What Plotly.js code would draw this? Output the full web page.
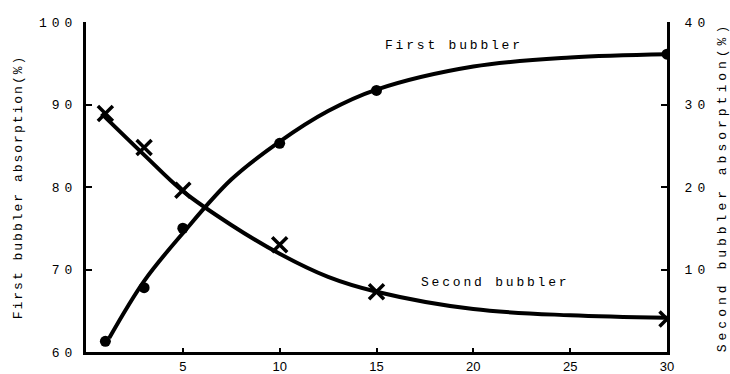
<!DOCTYPE html>
<html>
<head>
<meta charset="utf-8">
<script src="https://cdn.plot.ly/plotly-3.0.1.min.js"></script>
<style>
  html, body { margin: 0; padding: 0; background: #fff; }
  #chart { width: 730px; height: 374px; }
  .ytick text, .y2tick text { letter-spacing: 5px; }
  .annotation-text { letter-spacing: 2.8px; }
  text.ytitle { letter-spacing: 2px; }
  text.y2title { letter-spacing: 4px; }
</style>
</head>
<body>
<div id="chart"></div>
<script>
// Measured points (x shared by both series)
const xValues = [1, 3, 5, 10, 15, 30];
// First bubbler absorption (%) - left axis, circle markers
const firstBubbler = [61.3, 67.8, 75, 85.3, 91.7, 96.1];
// Second bubbler absorption (%) - right axis, cross markers
const secondBubbler = [28.9, 24.8, 19.6, 13, 7.3, 4];

// Smooth fitted curves
const firstCurveX = [1.2, 3, 5, 7.5, 10, 12.5, 15, 20, 25, 30];
const firstCurveY = [61.7, 68.6, 74.4, 80.9, 85.5, 89.2, 91.8, 94.6, 95.7, 96.1];
const secondCurveX = [0.8, 3, 5, 7.5, 10, 12.5, 15, 20, 25, 30];
const secondCurveY = [28.9, 23.9, 19.5, 15.4, 11.9, 9.1, 7.3, 5.2, 4.45, 4.15];

// Tick labels
const xTicks = [5, 10, 15, 20, 25, 30];
const yLeftTicks = [60, 70, 80, 90, 100];
const yRightTicks = [10, 20, 30, 40];
const seriesNames = ['First bubbler', 'Second bubbler'];

const mono = 'Liberation Mono, Courier New, monospace';

const curveLine = { color: '#000', width: 4, shape: 'spline', smoothing: 1 };

const traces = [
  {
    x: firstCurveX, y: firstCurveY, name: seriesNames[0] + ' curve', yaxis: 'y',
    mode: 'lines', type: 'scatter', line: curveLine, hoverinfo: 'skip'
  },
  {
    x: secondCurveX, y: secondCurveY, name: seriesNames[1] + ' curve', yaxis: 'y2',
    mode: 'lines', type: 'scatter', line: curveLine, hoverinfo: 'skip'
  },
  {
    x: xValues, y: firstBubbler, name: seriesNames[0], yaxis: 'y',
    mode: 'markers', type: 'scatter',
    marker: { symbol: 'circle', size: 11, color: '#000' }
  },
  {
    x: xValues, y: secondBubbler, name: seriesNames[1], yaxis: 'y2',
    mode: 'markers', type: 'scatter',
    marker: { symbol: 'x-thin', size: 15, color: '#000', line: { color: '#000', width: 3.5 } }
  }
];

const layout = {
  width: 730, height: 374,
  margin: { l: 86, r: 63, t: 22, b: 22, pad: 0 },
  paper_bgcolor: '#fff', plot_bgcolor: '#fff',
  showlegend: false,
  font: { family: mono, color: '#000', size: 13 },
  xaxis: {
    range: [0, 30], tickvals: xTicks, ticktext: xTicks.map(String),
    showgrid: false, zeroline: false,
    showline: true, linecolor: '#000', linewidth: 3,
    ticks: 'inside', ticklen: 4, tickwidth: 2, tickcolor: '#000',
    tickfont: { family: 'Liberation Sans Narrow, Arial Narrow, sans-serif', size: 13, color: '#000' },
    fixedrange: true
  },
  yaxis: {
    range: [60, 100], tickvals: yLeftTicks,
    showgrid: false, zeroline: false,
    showline: true, linecolor: '#000', linewidth: 3,
    ticks: 'inside', ticklen: 6, tickwidth: 2, tickcolor: '#000',
    tickfont: { family: mono, size: 13, color: '#000' },
    ticklabelstandoff: 3,
    title: { text: 'First bubbler absorption(%)', font: { family: mono, size: 13, color: '#000' }, standoff: 14 }
  },
  yaxis2: {
    range: [0, 40], tickvals: yRightTicks, overlaying: 'y', side: 'right',
    showgrid: false, zeroline: false,
    showline: true, linecolor: '#000', linewidth: 3,
    ticks: 'inside', ticklen: 6, tickwidth: 2, tickcolor: '#000',
    tickfont: { family: mono, size: 13, color: '#000' },
    ticklabelstandoff: 12,
    title: { text: 'Second bubbler absorption(%)', font: { family: mono, size: 13, color: '#000' }, standoff: 12 }
  },
  annotations: [
    { text: seriesNames[0], x: 19.0, y: 97.1, xref: 'x', yref: 'y', showarrow: false,
      font: { family: mono, size: 13, color: '#000' } },
    { text: seriesNames[1], x: 21.1, y: 68.4, xref: 'x', yref: 'y', showarrow: false,
      font: { family: mono, size: 13, color: '#000' } }
  ]
};

Plotly.newPlot('chart', traces, layout, { displayModeBar: false, staticPlot: true });
</script>
</body>
</html>
